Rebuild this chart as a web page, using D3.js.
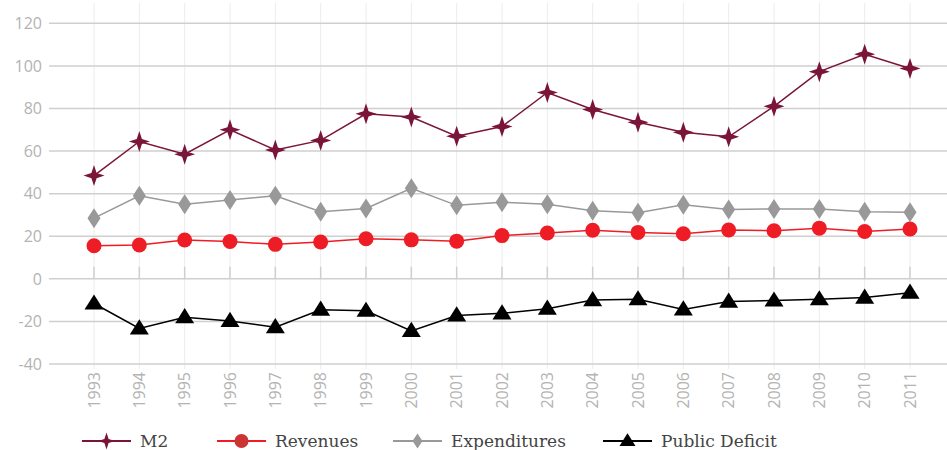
<!DOCTYPE html>
<html>
<head>
<meta charset="utf-8">
<script src="https://cdn.jsdelivr.net/npm/d3@7"></script>
<style>
  body { margin: 0; background: #fff; }
  svg { display: block; }
</style>
</head>
<body>
<div id="chart"></div>
<script>
// data
const years = ["1993","1994","1995","1996","1997","1998","1999","2000","2001","2002",
               "2003","2004","2005","2006","2007","2008","2009","2010","2011"];
const m2 = [48.5, 64.5, 58.5, 70, 60.5, 65, 77.5, 76, 67, 71.5, 87.5, 79.5, 73.5, 68.8, 66.7, 81, 97.3, 105.5, 98.8];
const revenues = [15.5, 15.9, 18.2, 17.5, 16.2, 17.3, 18.8, 18.3, 17.7, 20.3, 21.5, 22.8, 21.8, 21.2, 22.9, 22.6, 23.8, 22.2, 23.4];
const expenditures = [28.5, 39, 35, 37, 39, 31.5, 33, 42.5, 34.5, 36, 35, 32, 31, 34.8, 32.6, 32.8, 32.8, 31.5, 31.3];
const deficit = [-11.6, -23.3, -18, -19.8, -22.7, -14.5, -15, -24.5, -17.2, -16.2, -14, -10, -9.6, -14.4, -10.7, -10.2, -9.6, -8.8, -6.5];
const yTicks = [120, 100, 80, 60, 40, 20, 0, -20, -40];

const W = 947, H = 450;
const svg = d3.select("#chart").append("svg").attr("width", W).attr("height", H);

const x = d3.scalePoint().domain(years).range([94, 910]);
const y = d3.scaleLinear().domain([-40, 120]).range([364, 23.3]);

// vertical grid
svg.append("g").selectAll("line").data(years).enter().append("line")
  .attr("x1", d => x(d)).attr("x2", d => x(d))
  .attr("y1", 3).attr("y2", 369)
  .attr("stroke", "#ececec").attr("stroke-width", 1);

// horizontal grid
svg.append("g").selectAll("line").data(yTicks).enter().append("line")
  .attr("x1", 49).attr("x2", W)
  .attr("y1", d => y(d)).attr("y2", d => y(d))
  .attr("stroke", "#cfcfcf").attr("stroke-width", 1.5);

// x axis ticks on zero line
svg.append("g").selectAll("line").data(years).enter().append("line")
  .attr("x1", d => x(d)).attr("x2", d => x(d))
  .attr("y1", y(0) - 12).attr("y2", y(0))
  .attr("stroke", "#cfcfcf").attr("stroke-width", 1.5);

// y labels
svg.append("g").selectAll("text").data(yTicks).enter().append("text")
  .attr("x", 42).attr("y", d => y(d)).attr("dy", "0.36em")
  .attr("text-anchor", "end")
  .style("font", "16px 'Open Sans', sans-serif").style("fill", "#b3b3b3")
  .text(d => d);

// x labels (rotated)
svg.append("g").selectAll("text").data(years).enter().append("text")
  .attr("transform", d => `translate(${x(d)},372) rotate(-90)`)
  .attr("dy", "0.36em")
  .attr("text-anchor", "end")
  .style("font", "16px 'Open Sans', sans-serif").style("fill", "#b3b3b3")
  .text(d => d);

// marker shapes
function starPath(r, w) {
  return `M0,${-r}L${w},${-w}L${r},0L${w},${w}L0,${r}L${-w},${w}L${-r},0L${-w},${-w}Z`;
}
function diamondPath(hw, hh) {
  return `M0,${-hh}L${hw},0L0,${hh}L${-hw},0Z`;
}
function trianglePath(s) {
  const h = s * 0.8;
  return `M0,${-h * 0.6}L${s / 2},${h * 0.4}L${-s / 2},${h * 0.4}Z`;
}

const series = [
  { name: "M2", values: m2, color: "#7b1439", marker: starPath(10.5, 2.6), legendMarker: starPath(8.5, 2.1), legendFill: "#7b1439" },
  { name: "Revenues", values: revenues, color: "#ee1d25", marker: "circle", r: 7.5, legendFill: "#cc3333" },
  { name: "Expenditures", values: expenditures, color: "#999999", marker: diamondPath(6.5, 10), legendMarker: diamondPath(5, 7.5), legendFill: "#999999" },
  { name: "Public Deficit", values: deficit, color: "#000000", marker: trianglePath(19), legendMarker: trianglePath(16), legendFill: "#000000" }
];

const line = d3.line().x((d, i) => x(years[i])).y(d => y(d));

// draw in order: deficit, expenditures, revenues, m2
series.slice().reverse().forEach(s => {
  const g = svg.append("g");
  g.append("path").datum(s.values)
    .attr("d", line).attr("fill", "none")
    .attr("stroke", s.color).attr("stroke-width", 1.5);
  if (s.marker === "circle") {
    g.selectAll("circle").data(s.values).enter().append("circle")
      .attr("cx", (d, i) => x(years[i])).attr("cy", d => y(d))
      .attr("r", s.r).attr("fill", s.color);
  } else {
    g.selectAll("path.m").data(s.values).enter().append("path")
      .attr("class", "m")
      .attr("d", s.marker)
      .attr("transform", (d, i) => `translate(${x(years[i])},${y(d)})`)
      .attr("fill", s.color);
  }
});

// legend
const legendX = [82, 217, 393, 603];
const legend = svg.append("g");
series.forEach((s, i) => {
  const g = legend.append("g").attr("transform", `translate(${legendX[i]},441)`);
  g.append("line").attr("x1", 0).attr("x2", 49).attr("y1", 0).attr("y2", 0)
    .attr("stroke", s.color).attr("stroke-width", 2);
  if (s.marker === "circle") {
    g.append("circle").attr("cx", 24.5).attr("cy", 0).attr("r", 7).attr("fill", s.legendFill);
  } else {
    g.append("path").attr("d", s.legendMarker)
      .attr("transform", "translate(24.5,0)").attr("fill", s.legendFill);
  }
  g.append("text").attr("x", 58).attr("y", 6)
    .style("font", "17px 'DejaVu Serif', serif").style("fill", "#444")
    .text(s.name);
});
</script>
</body>
</html>
